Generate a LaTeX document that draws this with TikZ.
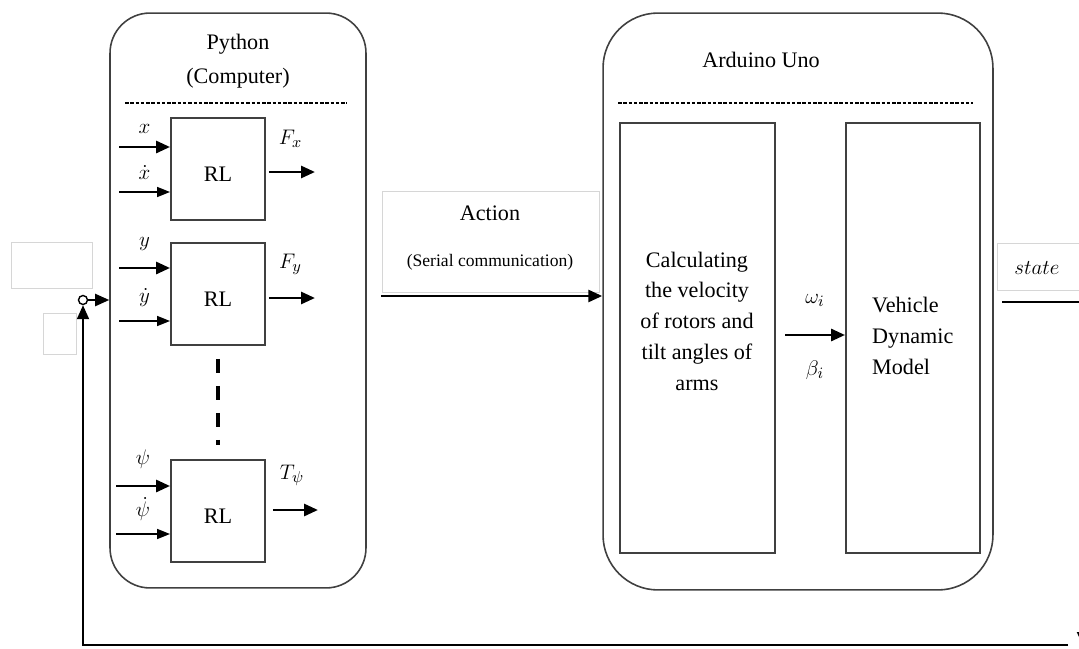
\documentclass[tikz,border=0pt]{standalone}
\usepackage{fontspec}
\setmainfont{Liberation Serif}
\usepackage{tikz}
\usetikzlibrary{positioning,shapes,arrows.meta,calc}
\definecolor{boxgray}{rgb}{0.25,0.25,0.25}
\definecolor{ghostgray}{rgb}{0.84,0.84,0.84}
\tikzstyle{container}=[%
      rectangle, draw=boxgray, line width=0.9pt, fill=none,
      minimum height=11.5cm, inner sep=0pt
]
\tikzstyle{rl}=[%
      rectangle, draw=boxgray, line width=1.1pt, fill=none,
      minimum width=1.88cm, minimum height=2.04cm, inner sep=0pt, text height=3.2ex
]
\tikzstyle{tall}=[%
      rectangle, draw=boxgray, line width=1.1pt, fill=none,
      minimum height=8.6cm, inner sep=0pt
]
\tikzstyle{ghost}=[%
      rectangle, draw=ghostgray, line width=0.5pt, fill=none, inner sep=0pt
]
\tikzstyle{lbl}=[inner sep=1pt]
\tikzstyle{sig}=[-{Triangle[length=0.28cm,width=0.24cm]}, line width=1.6pt]
\tikzstyle{sigthin}=[-{Triangle[length=0.26cm,width=0.2cm]}, line width=0.9pt]
\tikzstyle{dashsep}=[draw=black, line width=0.6pt, dash pattern=on 2pt off 1pt]
\tikzstyle{vdash}=[draw=black, line width=2.2pt, dash pattern=on 0.28cm off 0.26cm]

\begin{document}
\begin{tikzpicture}[x=0.02cm, y=-0.02cm, font=\fontsize{12.6}{17.5}\selectfont]
    \useasboundingbox (0,0) rectangle (1079,649);

    % empty text frames
    \node[ghost, minimum width=1.62cm, minimum height=0.92cm] (blank1)   at (51.5,265)    {};
    \node[ghost, minimum width=0.66cm, minimum height=0.82cm] (blank2)   at (59.5,333.5)  {};
    \node[ghost, minimum width=4.34cm, minimum height=2.02cm] (actbox)   at (490.5,241.5) {};
    \node[ghost, minimum width=1.86cm, minimum height=0.94cm] (statebox) at (1043.5,266.5) {};

    % containers
    \node[container, minimum width=5.12cm, rounded corners=0.8cm] (py) at (238,300.5) {};
    \node[container, minimum width=7.8cm, minimum height=11.54cm, rounded corners=1.1cm] (ard) at (798,301.5) {};
    \node[align=center, font=\fontsize{12.6}{19}\selectfont] (pytitle) at (238,61) {Python\\(Computer)};
    \node (ardtitle) at (761,60) {Arduino Uno};
    \draw[dashsep] (125,103) -- (347,103);
    \draw[dashsep] (618,103) -- (973,103);

    % RL agents
    \node[rl] (rlx)   at (218,169) {RL};
    \node[rl] (rly)   at (218,294) {RL};
    \node[rl] (rlpsi) at (218,511) {RL};
    \draw[vdash, shorten <=0.26cm, shorten >=0.28cm] (rly) -- (rlpsi);

    \coordinate (xin)    at (119,147);
    \coordinate (xdin)   at (119,192);
    \coordinate (yin)    at (119,268);
    \coordinate (ydin)   at (119,321);
    \coordinate (psiin)  at (116,486);
    \coordinate (psidin) at (116,534);
    \coordinate (fxout)  at (315,172);
    \coordinate (fyout)  at (315,298);
    \coordinate (tout)   at (318,510);

    \draw[sig]     (xin)    -- (xin -| rlx.west)      node[lbl, midway, above=0.21cm] {$x$};
    \draw[sigthin] (xdin)   -- (xdin -| rlx.west)     node[lbl, midway, above=0.19cm] {$\dot{x}$};
    \draw[sig]     (yin)    -- (yin -| rly.west)      node[lbl, midway, above=0.28cm] {$y$};
    \draw[sigthin] (ydin)   -- (ydin -| rly.west)     node[lbl, midway, above=0.24cm] {$\dot{y}$};
    \draw[sig]     (psiin)  -- (psiin -| rlpsi.west)  node[lbl, midway, above=0.28cm] {$\psi$};
    \draw[sigthin] (psidin) -- (psidin -| rlpsi.west) node[lbl, midway, above=0.21cm] {$\dot{\psi}$};

    \draw[sig, shorten <=0.06cm] (fxout -| rlx.east)  -- (fxout) node[lbl, midway, above=0.42cm] {$F_x$};
    \draw[sig, shorten <=0.06cm] (fyout -| rly.east)  -- (fyout) node[lbl, midway, above=0.4cm] {$F_y$};
    \draw[sig, shorten <=0.14cm] (tout -| rlpsi.east) -- (tout)  node[lbl, midway, above=0.42cm] {$T_\psi$};

    % feedback
    \node[circle, draw, line width=0.8pt, minimum size=0.18cm, inner sep=0pt] (sum) at (83,300) {};
    \draw[sig, line width=1.2pt] (sum) -- (sum -| py.west);
    \coordinate (fbstart)  at (1068,645);
    \coordinate (fbcorner) at (83,645);
    \draw[sig, line width=1.1pt] (fbstart) -- (fbcorner) -- (sum);
    \coordinate (downtip) at (1083,646);
    \draw[sig, line width=1.1pt] (1083,620) -- (downtip);

    % serial link
    \node (action) at (490,213) {Action};
    \node[font=\fontsize{10}{12}\selectfont] (serial) at (490,262) {(Serial communication)};
    \coordinate (actin) at (381,296);
    \draw[sig] (actin) -- (actin -| ard.west);

    % Arduino blocks
    \node[tall, minimum width=3.1cm]  (calc) at (697.5,338) {};
    \node[tall, minimum width=2.68cm] (veh)  at (913,338)   {};
    \node[align=center] (calctext) at (697,321) {Calculating\\the velocity\\of rotors and\\tilt angles of\\arms};
    \node[align=left, anchor=west] (vehtext) at (866,336) {Vehicle\\Dynamic\\Model};
    \coordinate (om) at (785,335);
    \draw[sig] (om) -- (om -| veh.west)
        node[lbl, midway, above=0.5cm] {$\omega_i$}
        node[lbl, midway, below=0.46cm] {$\beta_i$};

    % state output
    \node (statelbl) at (1037,268) {$state$};
    \coordinate (stout) at (1002,302);
    \coordinate (stend) at (1090,302);
    \draw[line width=1.3pt] (stout) -- (stend);
\end{tikzpicture}
\end{document}
